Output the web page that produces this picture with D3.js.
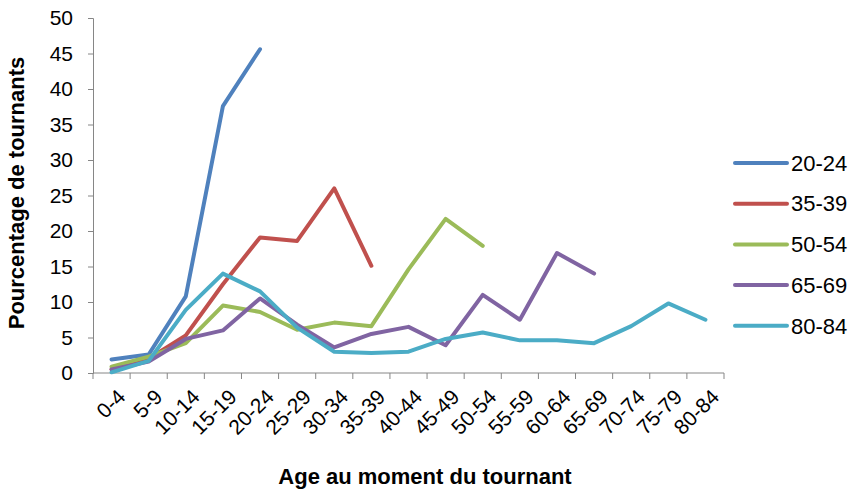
<!DOCTYPE html>
<html>
<head>
<meta charset="utf-8">
<script src="https://cdn.jsdelivr.net/npm/d3@7"></script>
<style>
  body { margin: 0; background: #fff; }
  svg { font-family: "Liberation Sans", Arial, sans-serif; }
  .axis path, .axis line { stroke: #868686; }
  .axis text { fill: #000; }
  .line { fill: none; stroke-width: 4; stroke-linejoin: round; stroke-linecap: round; }
</style>
</head>
<body>
<div class="graphContainer"></div>
<script>
// Categories (age at turning point)
var categories = ["0-4","5-9","10-14","15-19","20-24","25-29","30-34","35-39","40-44",
                  "45-49","50-54","55-59","60-64","65-69","70-74","75-79","80-84"];
var yTicks = [0, 5, 10, 15, 20, 25, 30, 35, 40, 45, 50];

// Series values, one per age cohort
var s20_24 = [1.9, 2.6, 10.8, 37.6, 45.6];
var s35_39 = [0.5, 2.0, 5.3, 12.5, 19.1, 18.6, 26.0, 15.1];
var s50_54 = [0.9, 2.3, 4.2, 9.5, 8.6, 6.1, 7.1, 6.6, 14.6, 21.7, 17.9];
var s65_69 = [0.5, 1.6, 4.8, 6.0, 10.5, 6.8, 3.6, 5.5, 6.5, 3.9, 11.0, 7.5, 16.9, 14.0];
var s80_84 = [0.1, 1.7, 8.9, 14.0, 11.5, 6.4, 3.0, 2.8, 3.0, 4.8, 5.7, 4.6, 4.6, 4.2, 6.6, 9.8, 7.5];

var seriesNames = ["20-24", "35-39", "50-54", "65-69", "80-84"];
var seriesData = [s20_24, s35_39, s50_54, s65_69, s80_84];
var colors = ["#4F81BD", "#C0504D", "#9BBB59", "#8064A2", "#4BACC6"];

var totalW = 853, totalH = 489;
var margin = {top: 18, right: 129, bottom: 116, left: 93},
    width = totalW - margin.left - margin.right,
    height = totalH - margin.top - margin.bottom;

var svg = d3.select(".graphContainer")
    .append("svg")
      .attr("width", totalW)
      .attr("height", totalH)
    .append("g")
      .attr("transform", "translate(" + margin.left + "," + margin.top + ")");

// Scales
var x = d3.scaleBand().domain(categories).range([0, width]);
var y = d3.scaleLinear().domain([0, 50]).range([height, 0]);

// Y axis
var yAxis = d3.axisLeft(y).tickValues(yTicks).tickSize(5).tickPadding(15);
var gy = svg.append("g").attr("class", "y axis").call(yAxis);
gy.selectAll("text").style("font-size", "21px");

// X axis (ticks between categories like Excel)
var gx = svg.append("g")
    .attr("class", "x axis")
    .attr("transform", "translate(0," + height + ")");
gx.append("line")
    .attr("x1", 0).attr("x2", width)
    .attr("stroke", "#868686");
var bounds = d3.range(categories.length + 1);
gx.selectAll(".tk").data(bounds).enter().append("line")
    .attr("class", "tk")
    .attr("x1", function(i) { return i * x.step(); })
    .attr("x2", function(i) { return i * x.step(); })
    .attr("y1", 0).attr("y2", 6)
    .attr("stroke", "#868686");
gx.selectAll(".lbl").data(categories).enter().append("text")
    .attr("class", "lbl")
    .attr("text-anchor", "end")
    .attr("transform", function(d) {
        return "translate(" + (x(d) + x.bandwidth() / 2 + 4) + ",14) rotate(-45)";
    })
    .attr("dy", "0.75em")
    .style("font-size", "21px")
    .text(function(d) { return d; });

// Lines
var line = d3.line()
    .x(function(d, i) { return x(categories[i]) + x.bandwidth() / 2; })
    .y(function(d) { return y(d); });

svg.selectAll(".line").data(seriesData).enter().append("path")
    .attr("class", "line")
    .attr("stroke", function(d, i) { return colors[i]; })
    .attr("d", function(d) { return line(d); });

// Axis titles
svg.append("text")
    .attr("transform", "translate(" + (24 - margin.left) + "," + (193 - margin.top) + ") rotate(-90)")
    .attr("text-anchor", "middle")
    .style("font-size", "22px")
    .style("font-weight", "bold")
    .text("Pourcentage de tournants");

svg.append("text")
    .attr("x", 425 - margin.left)
    .attr("y", 484 - margin.top)
    .attr("text-anchor", "middle")
    .style("font-size", "22px")
    .style("font-weight", "bold")
    .text("Age au moment du tournant");

// Legend
var legend = svg.append("g")
    .attr("transform", "translate(" + (735 - margin.left) + "," + (163 - margin.top) + ")");
var items = legend.selectAll("g").data(seriesNames).enter().append("g")
    .attr("transform", function(d, i) { return "translate(0," + (i * 40.7) + ")"; });
items.append("line")
    .attr("x1", 0).attr("x2", 52)
    .attr("stroke", function(d, i) { return colors[i]; })
    .attr("stroke-width", 4)
    .attr("stroke-linecap", "round");
items.append("text")
    .attr("x", 56)
    .attr("dy", "0.35em")
    .style("font-size", "22px")
    .text(function(d) { return d; });
</script>
</body>
</html>
